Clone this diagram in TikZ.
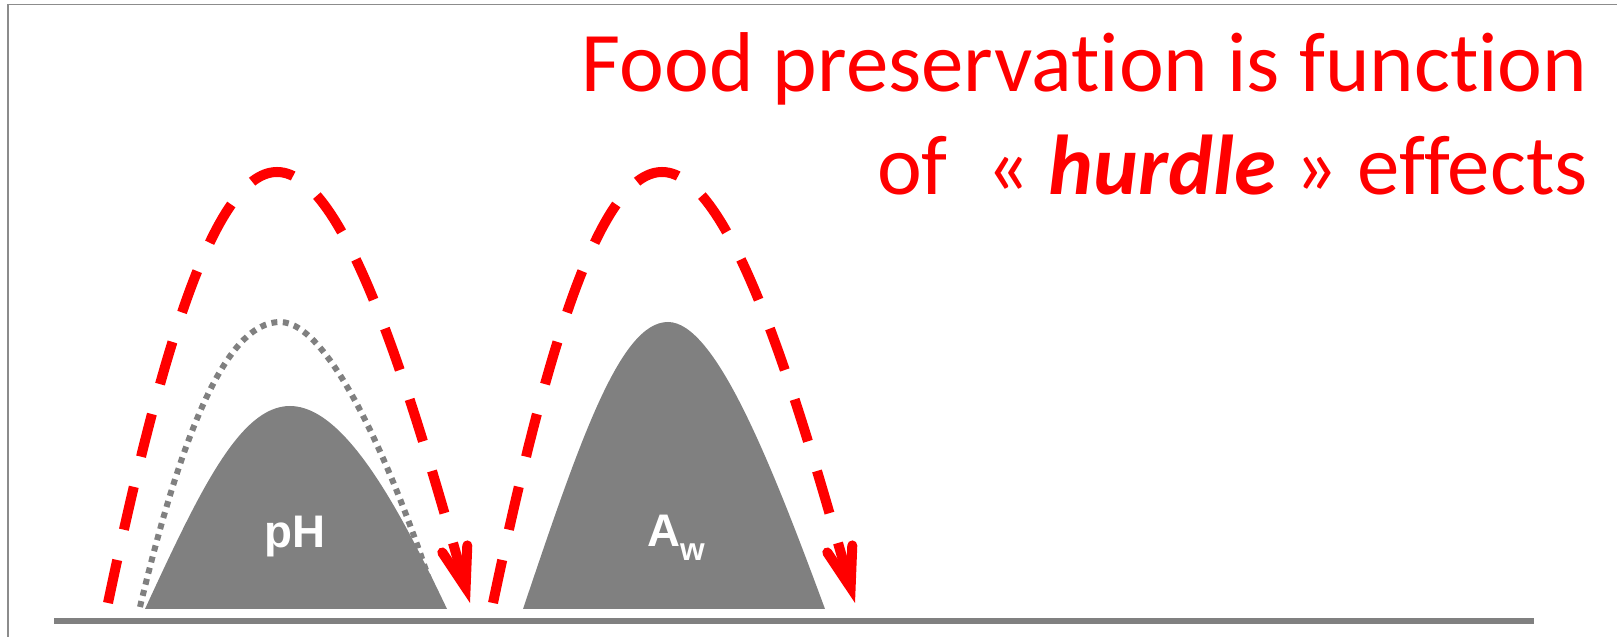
\documentclass[tikz,border=0pt]{standalone}
\usepackage{fontspec}
\setmainfont{Carlito}[Ligatures=NoCommon]
\newfontfamily\labelfont{Liberation Sans}
\usetikzlibrary{arrows.meta}
\definecolor{hillgray}{RGB}{128,128,128}
\tikzset{
  slideframe/.style={line width=0.85pt, draw=black!45},
  ground/.style={line width=0.11cm, draw=hillgray},
  hill/.style={fill=hillgray, draw=none},
  limit/.style={line width=0.12cm, draw=hillgray, dash pattern=on 0.12cm off 0.11cm},
  jump/.style={line width=0.2cm, draw=red, dash pattern=on 0.88cm off 0.62cm,
    -{Straight Barb[length=0.8cm, width=0.52cm, line cap=round, line join=miter]}},
  hurdlelabel/.style={text=white, font=\labelfont\bfseries\fontsize{26}{26}\selectfont, anchor=base},
  titletext/.style={text=red, align=right, anchor=base east, inner sep=0pt,
    font=\fontsize{48.3}{59}\selectfont},
}

\begin{document}
\begin{tikzpicture}
\useasboundingbox (0,0) rectangle (32.34,12.74);
\draw[slideframe] (0.16,0) -- (0.16,12.65) -- (32.34,12.65);
\draw[ground] (1.08,0.32) -- (30.68,0.32);
% hurdles
\fill[hill] (2.90,0.56) .. controls (4.00,2.94) and (4.80,4.62) .. (5.80,4.62)
  .. controls (6.90,4.62) and (8.00,2.54) .. (8.94,0.56) -- cycle;
\fill[hill] (10.46,0.56) .. controls (11.60,3.94) and (12.40,6.30) .. (13.36,6.30)
  .. controls (14.30,6.30) and (15.40,3.54) .. (16.50,0.56) -- cycle;
\draw[limit] (2.80,0.60) .. controls (3.60,3.94) and (4.50,6.30) .. (5.60,6.30)
  .. controls (6.60,6.30) and (7.90,3.34) .. (8.76,0.60);
% jumps over them
\draw[jump] (2.16,0.68) .. controls (3.10,5.14) and (4.20,9.30) .. (5.54,9.30)
  .. controls (6.90,9.30) and (8.20,4.94) .. (9.40,0.68);
\draw[jump] (9.86,0.68) .. controls (10.80,5.14) and (11.90,9.30) .. (13.24,9.30)
  .. controls (14.60,9.30) and (15.90,4.94) .. (17.10,0.68);
\node[hurdlelabel] (phlabel) at (5.90,1.78) {pH};
\node[hurdlelabel] (awlabel) at (13.52,1.80) {A\raisebox{-0.3em}{\fontsize{18}{18}\selectfont w}};
\node[titletext] (title) at (31.76,8.84) {Food preservation is function\\
  of\ \ « \textbf{\textit{hurdle}} » effects};
\end{tikzpicture}
\end{document}
